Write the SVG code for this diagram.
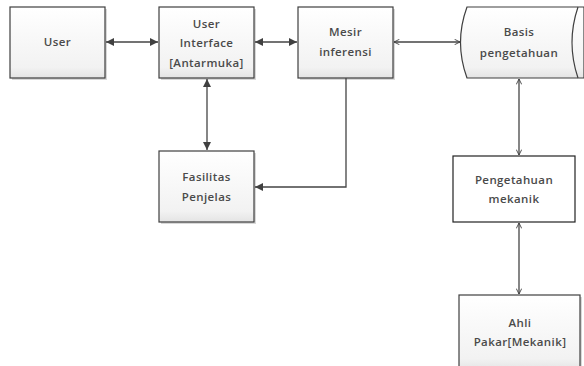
<svg xmlns="http://www.w3.org/2000/svg" width="584" height="366" viewBox="0 0 584 366">
<style>
.box{fill:url(#g);stroke:#3f3f3f;stroke-width:1.2}
.sh{fill:#d8d8d8}
.t{font-family:"Open Sans","DejaVu Sans",sans-serif;font-size:11.5px;font-weight:600;letter-spacing:0.4px;fill:#4a4a4a;text-anchor:middle}
.ln{fill:none;stroke:#444;stroke-width:1.3}
</style>
<defs>
<linearGradient id="g" x1="0" y1="0" x2="0" y2="1">
<stop offset="0" stop-color="#ffffff"/>
<stop offset="0.85" stop-color="#f2f2f2"/>
<stop offset="1" stop-color="#e4e4e4"/>
</linearGradient>
<marker id="f" viewBox="0 0 10 10" refX="10" refY="5" markerWidth="8" markerHeight="8" markerUnits="userSpaceOnUse" orient="auto-start-reverse">
<path d="M0,0 L10,5 L0,10 Z" fill="#404040"/>
</marker>
<marker id="o" viewBox="0 0 10 10" refX="10" refY="5" markerWidth="6" markerHeight="6" markerUnits="userSpaceOnUse" orient="auto-start-reverse">
<path d="M1,0.5 L10,5 L1,9.5" fill="none" stroke="#404040" stroke-width="1.5"/>
</marker>
</defs>
<rect width="584" height="366" fill="#fff"/>
<g id="user">
<rect class="sh" x="12" y="9" width="95" height="71"/>
<rect class="box" x="10" y="7" width="95" height="71"/>
<text class="t" x="57.5" y="46">User</text>
</g>
<g id="ui">
<rect class="sh" x="161" y="9" width="95" height="71"/>
<rect class="box" x="159" y="7" width="95" height="71"/>
<text class="t" x="206.5" y="28">User</text>
<text class="t" x="206.5" y="47">Interface</text>
<text class="t" x="206.5" y="67">[Antarmuka]</text>
</g>
<g id="mesin">
<rect class="sh" x="300" y="9" width="95" height="71"/>
<rect class="box" x="298" y="7" width="95" height="71"/>
<text class="t" x="345.5" y="36">Mesir</text>
<text class="t" x="345.5" y="56">inferensi</text>
</g>
<g id="basis">
<path d="M467,7 L584,7 L584,78 L467,78 Q454,42.5 467,7 Z" fill="url(#g)" stroke="#3f3f3f" stroke-width="1.2"/>
<path d="M578,7 Q566,42.5 578,78" fill="none" stroke="#3f3f3f" stroke-width="1.2"/>
<text class="t" x="519" y="36">Basis</text>
<text class="t" x="519" y="57">pengetahuan</text>
</g>
<g id="fasilitas">
<rect class="sh" x="161" y="153" width="95" height="71"/>
<rect class="box" x="159" y="151" width="95" height="71"/>
<text class="t" x="206.5" y="181">Fasilitas</text>
<text class="t" x="206.5" y="201">Penjelas</text>
</g>
<g id="pengetahuan">
<rect x="453" y="156" width="122" height="66" fill="#fff" stroke="#222" stroke-width="1.2"/>
<text class="t" x="514" y="184">Pengetahuan</text>
<text class="t" x="514" y="203">mekanik</text>
</g>
<g id="ahli">
<rect class="sh" x="461" y="297" width="121" height="75"/>
<rect class="box" x="459" y="295" width="121" height="75"/>
<text class="t" x="520" y="327">Ahli</text>
<text class="t" x="520" y="346">Pakar[Mekanik]</text>
</g>
<g id="connectors">
<line class="ln" x1="106" y1="42" x2="158" y2="42" marker-start="url(#f)" marker-end="url(#f)"/>
<line class="ln" x1="255" y1="42" x2="297" y2="42" marker-start="url(#f)" marker-end="url(#f)"/>
<line class="ln" x1="394" y1="42" x2="460" y2="42" marker-start="url(#o)" marker-end="url(#o)"/>
<line class="ln" x1="207" y1="79" x2="207" y2="150" marker-start="url(#f)" marker-end="url(#f)"/>
<polyline class="ln" points="346,78 346,187 255,187" marker-end="url(#f)"/>
<line class="ln" x1="519" y1="79" x2="519" y2="155" marker-start="url(#o)" marker-end="url(#o)"/>
<line class="ln" x1="519" y1="223" x2="519" y2="294" marker-start="url(#o)" marker-end="url(#o)"/>
</g>
</svg>
